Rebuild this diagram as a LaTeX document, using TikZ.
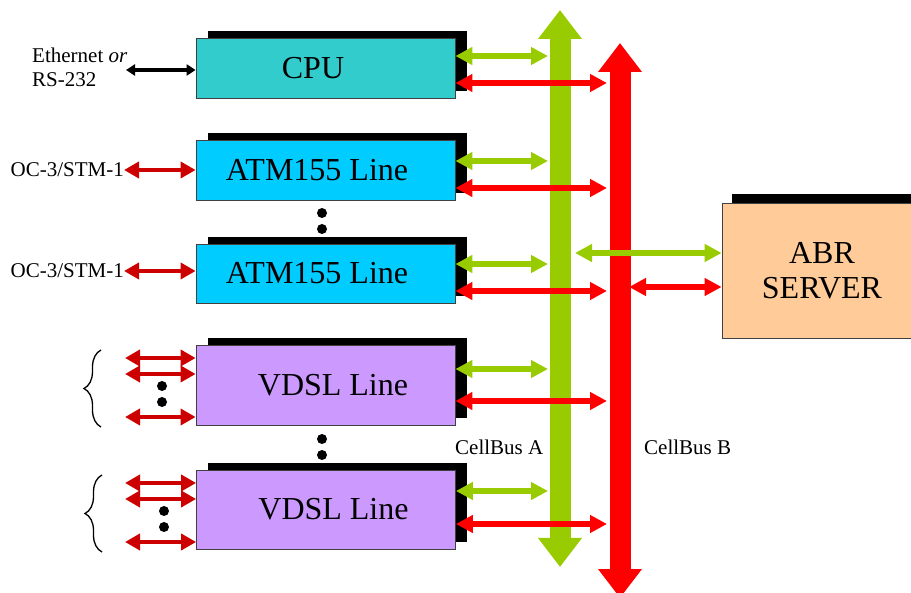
\documentclass[tikz,border=0pt]{standalone}
\usepackage{fontspec}
\setmainfont{Liberation Serif}
\usetikzlibrary{arrows.meta,shadows,calc,decorations.pathreplacing}
\definecolor{busgreen}{HTML}{99CC00}
\definecolor{busred}{HTML}{FF0000}
\definecolor{linkred}{HTML}{CC0000}
\definecolor{cpucol}{HTML}{33CCCC}
\definecolor{atmcol}{HTML}{00CCFF}
\definecolor{vdslcol}{HTML}{CC99FF}
\definecolor{abrcol}{HTML}{FFCC99}
\tikzset{
  card/.style={draw=black!75, line width=0.8pt, minimum width=259pt, inner sep=0pt,
    font=\fontsize{32}{34}\selectfont,
    general shadow={fill=black, shadow xshift=11.5pt, shadow yshift=7pt}},
  busline/.style={line width=21pt, -{Triangle[length=29pt,width=42pt]}},
  gbus/.style={busline, busgreen},
  rbus/.style={busline, busred},
  conn/.style={line width=6pt, {Triangle[length=17pt,width=17pt]}-{Triangle[length=17pt,width=17pt]}},
  gconn/.style={conn, busgreen},
  rconn/.style={conn, busred},
  ext/.style={line width=4pt, linkred, {Triangle[length=15pt,width=16pt]}-{Triangle[length=15pt,width=16pt]}},
  eth/.style={line width=3.5pt, black, {Triangle[length=9pt,width=11pt]}-{Triangle[length=9pt,width=11pt]}},
  small/.style={font=\fontsize{21}{24}\selectfont, inner sep=0pt},
  dotmark/.style={circle, fill=black, minimum size=10pt, inner sep=0pt},
  brace/.style={decorate, decoration={brace, amplitude=17pt}, line width=1.3pt}
}
\begin{document}
\begin{tikzpicture}[x=1pt,y=-1pt]
\useasboundingbox (0,0) rectangle (911,593);
% buses
\coordinate (gA1) at (560,567);
\coordinate (gA2) at (560,10);
\coordinate (rB1) at (620,598);
\coordinate (rB2) at (620,43);
% boxes
\node[card, fill=cpucol, minimum height=60pt] (cpu) at (325.5,68) {\hspace*{-25pt}CPU};
\node[card, fill=atmcol, minimum height=60pt] (atm1) at (325.5,170) {\hspace*{-17pt}ATM155 Line};
\node[card, fill=atmcol, minimum height=59pt] (atm2) at (325.5,273.5) {\hspace*{-17pt}ATM155 Line};
\node[card, fill=vdslcol, minimum height=80pt] (vdsl1) at (325.5,385) {\hspace*{15pt}VDSL Line};
\node[card, fill=vdslcol, minimum height=79pt] (vdsl2) at (326,509.5) {\hspace*{15pt}VDSL Line};
\node[draw=black!75, line width=0.8pt, fill=abrcol, minimum width=200pt, minimum height=135pt,
  align=center, font=\fontsize{32}{35}\selectfont, inner sep=0pt,
  general shadow={fill=black, shadow xshift=10pt, shadow yshift=9pt}] (abr) at (822,270.5) {ABR\\SERVER};

\draw[gbus] ($(gA1)!0.5!(gA2)$) -- (gA2);
\draw[gbus] ($(gA1)!0.5!(gA2)$) -- (gA1);
\draw[rbus] ($(rB1)!0.5!(rB2)$) -- (rB2);
\draw[rbus] ($(rB1)!0.5!(rB2)$) -- (rB1);

% bus connectors
\foreach \b/\gy/\ry in {cpu/56/83, atm1/161/188, atm2/264/291, vdsl1/369/401, vdsl2/491/524}{
  \coordinate (\b g) at (548,\gy);
  \coordinate (\b r) at (607,\ry);
  \draw[gconn] (\b.east |- \b g) -- (\b g);
  \draw[rconn] (\b.east |- \b r) -- (\b r);
}
\coordinate (abrg) at (575,253);
\coordinate (abrr) at (629,287);
\draw[gconn] (abrg) -- (abr.west |- abrg);
\draw[rconn] (abrr) -- (abr.west |- abrr);

% left side
\node[small, align=left, anchor=west] (ethl) at (32,67) {Ethernet \textit{or}\\RS-232};
\coordinate (ethend) at (126,70);
\draw[eth] (ethend) -- (cpu.west |- ethend);
\node[small, anchor=east] (oc1) at (124,170) {OC-3/STM-1};
\node[small, anchor=east] (oc2) at (124,271) {OC-3/STM-1};
\draw[ext] (oc1.east) -- (atm1.west |- oc1.east);
\draw[ext] (oc2.east) -- (atm2.west |- oc2.east);

\foreach \b/\ya/\yb/\yc in {vdsl1/358/374/417, vdsl2/483/499/542}{
  \foreach \yy in {\ya,\yb,\yc}{
    \coordinate (\b l\yy) at (125,\yy);
    \draw[ext] (\b l\yy) -- (\b.west |- \b l\yy);
  }
}
\node[dotmark] (d1) at (162,386) {};
\node[dotmark] (d2) at (162,402) {};
\node[dotmark] (d3) at (164,511) {};
\node[dotmark] (d4) at (164,527) {};
\node[dotmark] (d5) at (322,213) {};
\node[dotmark] (d6) at (322,229) {};
\node[dotmark] (d7) at (322,439) {};
\node[dotmark] (d8) at (322,455) {};

\coordinate (br1a) at (101,427);
\coordinate (br1b) at (101,350);
\coordinate (br2a) at (102,552);
\coordinate (br2b) at (102,475);
\draw[brace] (br1a) -- (br1b);
\draw[brace] (br2a) -- (br2b);

\node[small, anchor=west] (cba) at (455,447) {CellBus A};
\node[small, anchor=west] (cbb) at (644,447) {CellBus B};
\end{tikzpicture}
\end{document}
